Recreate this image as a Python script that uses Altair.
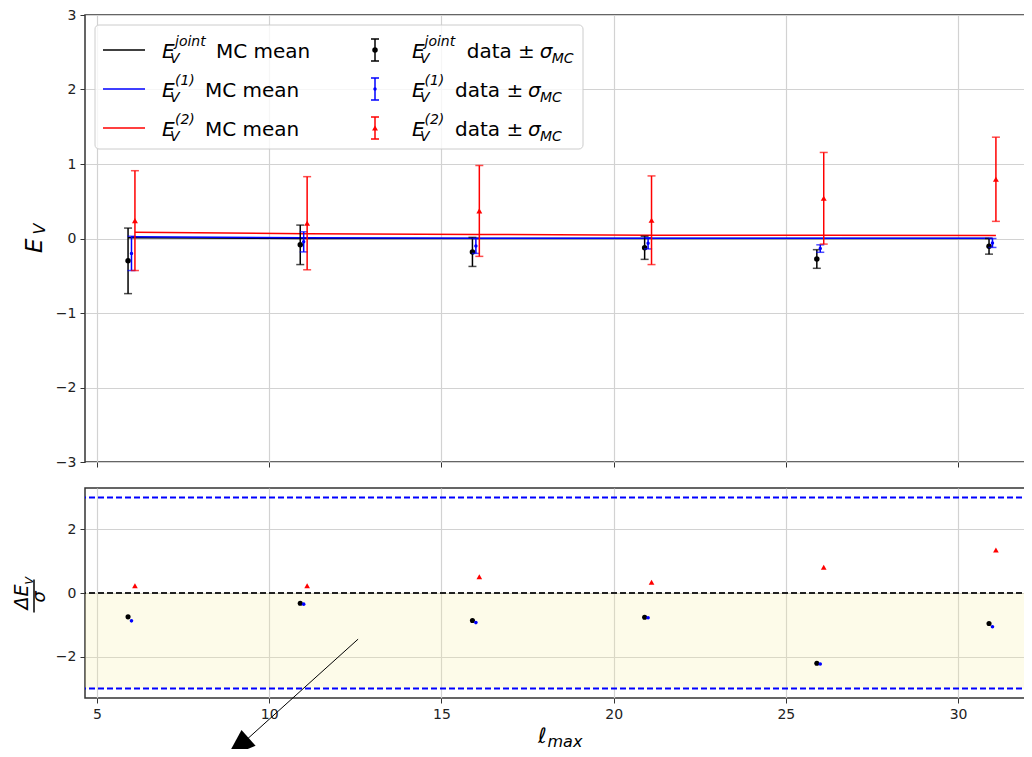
import altair as alt
import pandas as pd

# ---------------- data ----------------
lmax = [6, 11, 16, 21, 26, 31]
offset_joint, offset_1, offset_2 = -0.1, 0.0, 0.1

joint_data = [-0.30, -0.085, -0.18, -0.125, -0.275, -0.105]
joint_sigma = [0.44, 0.265, 0.195, 0.155, 0.125, 0.105]
ev1_data = [-0.20, -0.045, -0.10, -0.065, -0.135, -0.06]
ev1_sigma = [0.23, 0.135, 0.10, 0.075, 0.05, 0.06]
ev2_data = [0.24, 0.205, 0.37, 0.245, 0.54, 0.795]
ev2_sigma = [0.67, 0.625, 0.61, 0.595, 0.615, 0.565]

mc_joint = [0.01, 0.0, 0.0, 0.0, 0.0, 0.0]
mc_1 = [0.025, 0.01, 0.005, 0.005, 0.005, 0.005]
mc_2 = [0.085, 0.065, 0.055, 0.045, 0.042, 0.04]

dev_joint = [-0.75, -0.32, -0.865, -0.76, -2.21, -0.96]
dev_1 = [-0.875, -0.35, -0.93, -0.78, -2.23, -1.06]
dev_2 = [0.23, 0.23, 0.51, 0.34, 0.81, 1.35]

sigma_bounds = [-3, 3]
zero_line = [0]
band_lo, band_hi = -3, 0

x_ticks = [5, 10, 15, 20, 25, 30]
top_y_ticks = [-3, -2, -1, 0, 1, 2, 3]
bot_y_ticks = [-2, 0, 2]

legend_sups = ["joint", "(1)", "(2)"]
legend_mc_text = "MC mean"
legend_data_text = "data \u00b1"

# annotation arrow (lower panel data coordinates)
arrow_x = [12.58, 9.075]
arrow_y = [-1.45, -4.87]

# ---------------- layout ----------------
W, H1, H2 = 955, 447, 210
XDOM = [4.65, 32.38]
FONT = "DejaVu Sans"
BLACK, BLUE, RED = "black", "#0000ff", "#ff0000"
TOPDOM = [-3, 3]
BOTDOM = [-3.3, 3.3]


def xenc(field="x", labels=False):
    return alt.X(field, type="quantitative",
                 scale=alt.Scale(domain=XDOM, nice=False, zero=False),
                 axis=alt.Axis(values=x_ticks, labels=labels, title=None, tickSize=5,
                               labelPadding=4, grid=True, domain=False))


def yenc(field, dom, vals):
    return alt.Y(field, type="quantitative",
                 scale=alt.Scale(domain=dom, nice=False, zero=False),
                 axis=alt.Axis(values=vals, title=None, tickSize=5, labelPadding=4,
                               grid=True, domain=False))


def ytop(field):
    return yenc(field, TOPDOM, top_y_ticks)


def ybot(field):
    return yenc(field, BOTDOM, bot_y_ticks)


def txt(s, x, y, size, style="normal", angle=0, align="left", baseline="alphabetic"):
    return alt.Chart(pd.DataFrame({"t": [s]})).mark_text(
        font=FONT, fontSize=size, fontStyle=style, angle=angle, align=align,
        baseline=baseline, color="black"
    ).encode(x=alt.value(x), y=alt.value(y), text="t:N")


def one():
    return pd.DataFrame({"a": [0]})


# ---------------- top panel ----------------
def mc_line(off, vals, color):
    df = pd.DataFrame({"x": [l + off for l in lmax], "y": vals})
    return alt.Chart(df).mark_line(color=color, strokeWidth=1.5).encode(
        x=xenc(), y=ytop("y"), order="x:Q")


def errbar(off, vals, sig, color, shape, size):
    df = pd.DataFrame({"x": [l + off for l in lmax], "y": vals,
                       "lo": [v - s for v, s in zip(vals, sig)],
                       "hi": [v + s for v, s in zip(vals, sig)]})
    base = alt.Chart(df)
    rule = base.mark_rule(color=color, strokeWidth=1.5).encode(
        x=xenc(), y=ytop("lo"), y2="hi:Q")
    caps = [base.mark_tick(color=color, orient="horizontal", size=8, thickness=1.5).encode(
        x=xenc(), y=ytop(f)) for f in ("lo", "hi")]
    pts = base.mark_point(filled=True, shape=shape, size=size, color=color, opacity=1).encode(
        x=xenc(), y=ytop("y"))
    return [rule] + caps + [pts]


top_layers = [
    mc_line(offset_joint, mc_joint, BLACK),
    mc_line(offset_1, mc_1, BLUE),
    mc_line(offset_2, mc_2, RED),
]
top_layers += errbar(offset_joint, joint_data, joint_sigma, BLACK, "circle", 30)
top_layers += errbar(offset_1, ev1_data, ev1_sigma, BLUE, "circle", 12)
top_layers += errbar(offset_2, ev2_data, ev2_sigma, RED, "triangle-up", 35)

# legend box
top_layers.append(alt.Chart(one()).mark_rect(
    fill="white", fillOpacity=0.8, stroke="#cccccc", strokeWidth=1, cornerRadius=4
).encode(x=alt.value(10), x2=alt.value(498), y=alt.value(10), y2=alt.value(134)))

rows_c = [35, 74, 113]
colors = [BLACK, BLUE, RED]
shapes = ["circle", "circle", "triangle-up"]
msizes = [30, 12, 35]
mc_text_x = [131, 120, 120]
data_text_x = [381.7, 370, 370]
for i, c in enumerate(rows_c):
    col = colors[i]
    b = c + 7.5
    # left column: line sample
    top_layers.append(alt.Chart(one()).mark_rule(color=col, strokeWidth=1.5).encode(
        x=alt.value(18), x2=alt.value(60), y=alt.value(c)))
    top_layers.append(txt("E", 77, b, 20, "italic"))
    top_layers.append(txt(legend_sups[i], 90, b - 11.5, 14, "italic"))
    top_layers.append(txt("V", 85, b + 5, 14, "italic"))
    top_layers.append(txt(legend_mc_text, mc_text_x[i], b, 20))
    # right column: errorbar symbol
    top_layers.append(alt.Chart(one()).mark_rule(color=col, strokeWidth=1.5).encode(
        x=alt.value(290), y=alt.value(c - 11), y2=alt.value(c + 11)))
    for dy in (-11, 11):
        top_layers.append(alt.Chart(one()).mark_rule(color=col, strokeWidth=1.5).encode(
            x=alt.value(286), x2=alt.value(294), y=alt.value(c + dy)))
    top_layers.append(alt.Chart(one()).mark_point(
        filled=True, shape=shapes[i], size=msizes[i], color=col, opacity=1
    ).encode(x=alt.value(290), y=alt.value(c)))
    top_layers.append(txt("E", 327, b, 20, "italic"))
    top_layers.append(txt(legend_sups[i], 339.5, b - 11.5, 14, "italic"))
    top_layers.append(txt("V", 335, b + 5, 14, "italic"))
    top_layers.append(txt(legend_data_text, data_text_x[i], b, 20))
    top_layers.append(txt("\u03c3", data_text_x[i] + 73, b, 20, "italic"))
    top_layers.append(txt("MC", data_text_x[i] + 85, b + 5, 14, "italic"))

# y title E_V (rotated)
top_layers.append(txt("E", -43, 238, 23, "italic", angle=270))
top_layers.append(txt("V", -40, 219.5, 16, "italic", angle=270))

top = alt.layer(*top_layers).properties(width=W, height=H1)

# ---------------- bottom panel ----------------
bot_layers = []
band = pd.DataFrame({"x": [XDOM[0]], "x2": [XDOM[1]], "y": [band_lo], "y2": [band_hi]})
bot_layers.append(alt.Chart(band).mark_rect(fill="#f7ec9a", opacity=0.22).encode(
    x=xenc(labels=True), x2="x2:Q", y=ybot("y"), y2="y2:Q"))
bot_layers.append(alt.Chart(pd.DataFrame({"y": sigma_bounds})).mark_rule(
    color=BLUE, strokeWidth=2, strokeDash=[6, 3]).encode(y=ybot("y")))
bot_layers.append(alt.Chart(pd.DataFrame({"y": zero_line})).mark_rule(
    color="#222222", strokeWidth=2, strokeDash=[6, 3]).encode(y=ybot("y")))


def devpts(off, vals, color, shape, size):
    df = pd.DataFrame({"x": [l + off for l in lmax], "y": vals})
    return alt.Chart(df).mark_point(filled=True, shape=shape, size=size, color=color,
                                    opacity=1).encode(x=xenc(labels=True), y=ybot("y"))


bot_layers.append(devpts(offset_joint, dev_joint, BLACK, "circle", 26))
bot_layers.append(devpts(offset_1, dev_1, BLUE, "circle", 13))
bot_layers.append(devpts(offset_2, dev_2, RED, "triangle-up", 32))

# annotation arrow
arr = pd.DataFrame({"x": [arrow_x[0]], "y": [arrow_y[0]], "x2": [arrow_x[1]], "y2": [arrow_y[1]]})
bot_layers.append(alt.Chart(arr).mark_rule(color="black", strokeWidth=1).encode(
    x=xenc(labels=True), y=ybot("y"), x2="x2:Q", y2="y2:Q"))
head = pd.DataFrame({"x": [arrow_x[1]], "y": [arrow_y[1]]})
bot_layers.append(alt.Chart(head).mark_point(
    filled=True, shape="M0,-1L0.7,1L-0.7,1Z", size=900, angle=228, color="black", opacity=1
).encode(x=xenc(labels=True), y=ybot("y")))

# y title  ΔE_V / σ (rotated fraction)
bot_layers.append(txt("\u0394E", -57, 121.5, 19, "italic", angle=270))
bot_layers.append(txt("V", -52.5, 96.5, 11, "italic", angle=270))
bot_layers.append(alt.Chart(one()).mark_rule(color="black", strokeWidth=1.5).encode(
    x=alt.value(-51), y=alt.value(91.5), y2=alt.value(124.5)))
bot_layers.append(txt("\u03c3", -40, 114.5, 18, "italic", angle=270))

# x title  ℓ_max
bot_layers.append(txt("\u2113", 453, 254.5, 21, "italic"))
bot_layers.append(txt("max", 462.5, 258.5, 16, "italic"))

bottom = alt.layer(*bot_layers).properties(width=W, height=H2)

chart = alt.vconcat(top, bottom, spacing=26, bounds="flush").properties(
    autosize=alt.AutoSizeParams(type="none"),
    padding={"left": 77, "top": 7, "right": -16, "bottom": 734}
).configure_view(stroke="#333333", strokeWidth=1.5).configure_axis(
    labelFont=FONT, labelFontSize=14, labelColor="#222222", tickColor="#333333",
    tickWidth=1, gridColor="#d2d2d2", gridWidth=1.2
)

chart.save("out.html", embed_options={"renderer": "svg", "actions": False})
